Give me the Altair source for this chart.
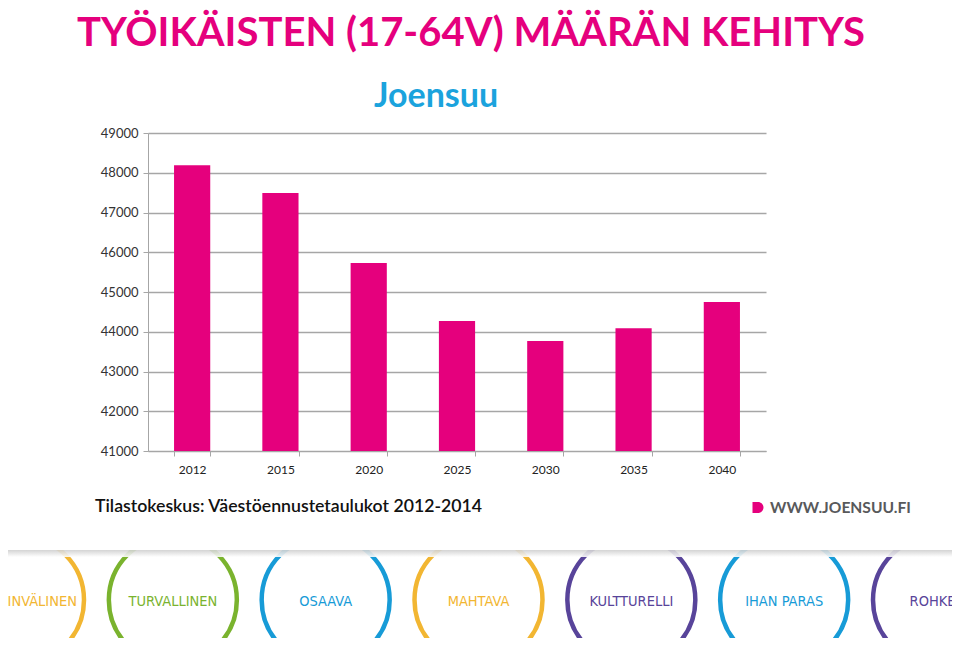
import altair as alt
import pandas as pd

# ---- data ----
years = ["2012", "2015", "2020", "2025", "2030", "2035", "2040"]
values = [48190, 47490, 45730, 44270, 43770, 44090, 44750]
y_ticks = [41000, 42000, 43000, 44000, 45000, 46000, 47000, 48000, 49000]

title_text = ["TYÖIKÄISTEN (17-64V) MÄÄRÄN KEHITYS"]
subtitle_text = ["Joensuu"]
source_text = ["Tilastokeskus: Väestöennustetaulukot 2012-2014"]
logo_text = ["WWW.JOENSUU.FI"]

banner_words = ["KANSAINVÄLINEN", "TURVALLINEN", "OSAAVA", "MAHTAVA",
                "KULTTURELLI", "IHAN PARAS", "ROHKEA"]
banner_colors = ["#F2B632", "#7AB32E", "#179BD7", "#F2B632",
                 "#58449A", "#179BD7", "#58449A"]
banner_index = list(range(len(banner_words)))

MAGENTA = "#E5007D"
BLUE = "#1BA3DD"
W, H = 618, 318

df = pd.DataFrame({"year": years, "value": values})
banner = pd.DataFrame({"i": banner_index, "word": banner_words, "color": banner_colors})

bars = alt.Chart(df).mark_bar(color=MAGENTA, clip=True).encode(
    x=alt.X("year:O", title=None,
            scale=alt.Scale(paddingInner=0.59, paddingOuter=0.295),
            axis=alt.Axis(labelAngle=0, tickBand="extent", tickSize=5,
                          tickColor="#A6A6A6", domainColor="#A6A6A6",
                          labelFont="Lato", labelFontSize=12, labelColor="#222222",
                          labelPadding=8, grid=False)),
    y=alt.Y("value:Q", title=None,
            scale=alt.Scale(domain=[41000, 49000], zero=False, nice=False),
            axis=alt.Axis(values=y_ticks, format="d", grid=True,
                          gridColor="#A6A6A6", gridWidth=1.3,
                          domainColor="#A6A6A6", tickColor="#A6A6A6", tickSize=5,
                          labelFont="Lato", labelFontSize=13, labelColor="#333333",
                          labelPadding=5)),
)

def text_layer(txt, **kw):
    x = kw.pop("x")
    y = kw.pop("y")
    return alt.Chart(pd.DataFrame({"t": txt})).mark_text(**kw).encode(
        text="t:N", x=alt.value(x), y=alt.value(y))

title = text_layer(title_text, x=-71, y=-87, align="left", baseline="alphabetic",
                   font="Lato", fontSize=40, fontWeight="bold", color=MAGENTA)
subtitle = text_layer(subtitle_text, x=288, y=-26, align="center", baseline="alphabetic",
                      font="Lato", fontSize=34, fontWeight="bold", color=BLUE)
source = text_layer(source_text, x=-53, y=379, align="left", baseline="alphabetic",
                    font="Lato", fontSize=17.7, fontWeight=600, color="#111111")
logo = text_layer(logo_text, x=622, y=380, align="left", baseline="alphabetic",
                  font="Lato", fontSize=15.6, fontWeight="bold", color="#58595B")
logo_icon = alt.Chart(pd.DataFrame({"t": ["D"]})).mark_point(
    shape="M -1 -1 L 0 -1 A 1 1 0 0 1 0 1 L -1 1 Z",
    filled=True, color=MAGENTA, size=120, opacity=1).encode(
    x=alt.value(610), y=alt.value(374.5))

bx = alt.X("i:Q", scale=alt.Scale(domain=[0, 6], range=[-128, 789]), axis=None)

circles = alt.Chart(banner).mark_point(
    shape="circle", filled=False, strokeWidth=4.5, size=16384, opacity=1).encode(
    x=bx, y=alt.value(467),
    color=alt.Color("color:N", scale=None))

words = alt.Chart(banner).mark_text(
    font="'DejaVu Sans Condensed', 'Roboto Condensed', Roboto", fontSize=14.5,
    fontWeight=500, baseline="middle", align="center").encode(
    x=bx, y=alt.value(469), text="word:N",
    color=alt.Color("color:N", scale=None))

one = pd.DataFrame({"k": [0]})
cover = alt.Chart(one).mark_rect(color="white").encode(
    x=alt.value(-140), x2=alt.value(804), y=alt.value(385), y2=alt.value(417))
shadow = alt.Chart(one).mark_rect(
    color=alt.Gradient(gradient="linear",
                       stops=[alt.GradientStop(color="#CFCFCF", offset=0),
                              alt.GradientStop(color="#FFFFFF", offset=1)],
                       x1=0, x2=0, y1=0, y2=1),
    opacity=0.9).encode(
    x=alt.value(-140), x2=alt.value(804), y=alt.value(417), y2=alt.value(424))

chart = alt.layer(
    bars, circles, words, cover, shadow, title, subtitle, source, logo, logo_icon
).resolve_scale(x="independent", color="independent").properties(
    width=W, height=H,
    autosize=alt.AutoSizeParams(type="none"),
    padding={"left": 140, "top": 125, "right": 186, "bottom": 187},
).configure_view(stroke=None)

chart.save("out.html", embed_options={"renderer": "svg", "actions": False})
